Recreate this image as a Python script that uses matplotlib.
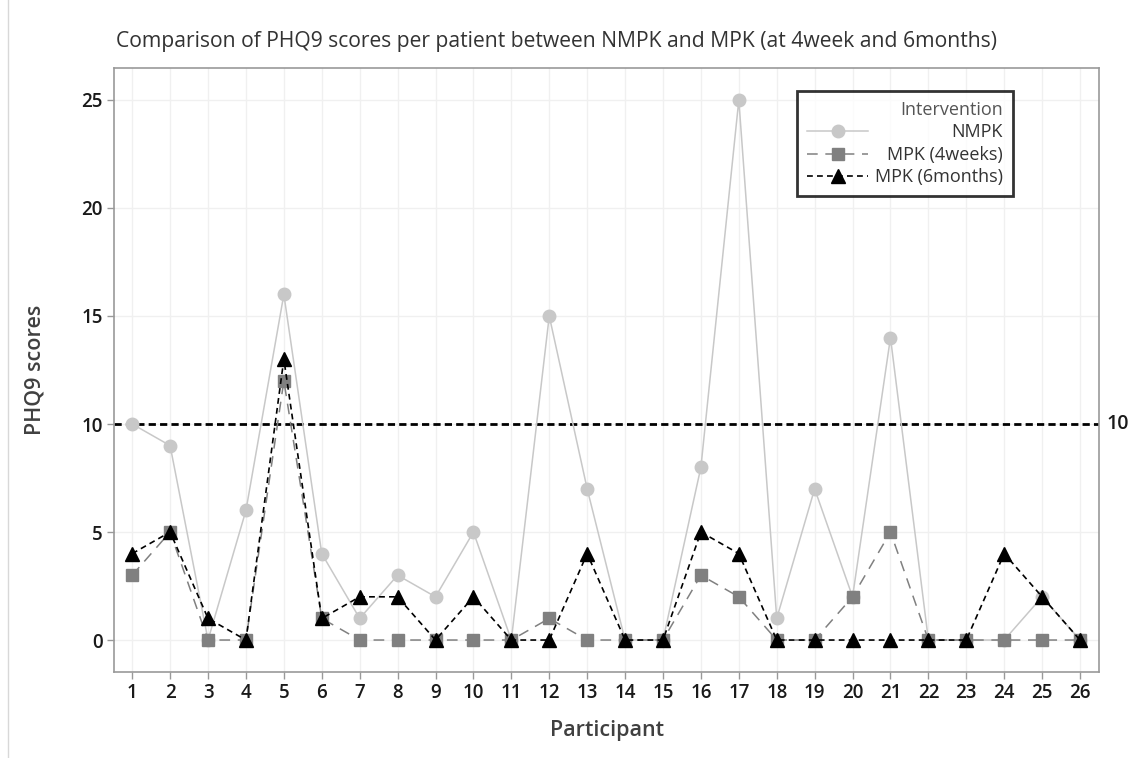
import matplotlib
matplotlib.use("Agg")
import matplotlib.pyplot as plt
from matplotlib.lines import Line2D

participants = list(range(1, 27))
nmpk = [10, 9, 0, 6, 16, 4, 1, 3, 2, 5, 0, 15, 7, 0, 0, 8, 25, 1, 7, 2, 14, 0, 0, 0, 2, 0]
mpk_4weeks = [3, 5, 0, 0, 12, 1, 0, 0, 0, 0, 0, 1, 0, 0, 0, 3, 2, 0, 0, 2, 5, 0, 0, 0, 0, 0]
mpk_6months = [4, 5, 1, 0, 13, 1, 2, 2, 0, 2, 0, 0, 4, 0, 0, 5, 4, 0, 0, 0, 0, 0, 0, 4, 2, 0]
cutoff = 10

plt.rcParams['font.family'] = ['Open Sans', 'DejaVu Sans']

fig = plt.figure(figsize=(11.33, 7.58), dpi=100)
ax = fig.add_axes([114/1133, 1 - 672/758, (1099-114)/1133, (672-68)/758])

ax.plot(participants, nmpk, color='#c8c8c8', lw=1.1, marker='o', ms=9,
        mfc='#c8c8c8', mec='#c8c8c8', label='NMPK', zorder=3)
ax.plot(participants, mpk_4weeks, color='#808080', lw=1.1, ls=(0, (7, 5)), marker='s', ms=8.5,
        mfc='#808080', mec='#808080', label='MPK (4weeks)', zorder=4)
ax.plot(participants, mpk_6months, color='black', lw=1.2, ls=(0, (3.5, 2.5)), marker='^', ms=10,
        mfc='black', mec='black', label='MPK (6months)', zorder=5)

ax.axhline(cutoff, color='black', lw=2, ls=(0, (2.6, 1.5)), zorder=2)
ax.text(1.008, cutoff, str(cutoff), transform=ax.get_yaxis_transform(), va='center', ha='left',
        fontsize=14, fontweight='semibold', color='#1a1a1a')

ax.set_xlim(0.52, 26.5)
ax.set_ylim(-1.48, 26.48)
ax.set_xticks(participants)
ax.set_yticks([0, 5, 10, 15, 20, 25])
ax.grid(True, color='#f0f0f0', lw=1, zorder=0)
ax.set_axisbelow(True)
for s in ax.spines.values():
    s.set_color('#999999')
    s.set_linewidth(1.2)
ax.tick_params(axis='both', colors='#999999', labelcolor='#1a1a1a', labelsize=13.5, length=5, width=1, pad=3)
for lab in ax.get_xticklabels() + ax.get_yticklabels():
    lab.set_fontweight('semibold')

ax.set_xlabel('Participant', fontsize=15.5, fontweight='semibold', color='#404040', labelpad=12)
ax.set_ylabel('PHQ9 scores', fontsize=15.5, fontweight='semibold', color='#404040', labelpad=26)
fig.text(116/1133, 1 - 42/758, 'Comparison of PHQ9 scores per patient between NMPK and MPK (at 4week and 6months)',
         fontsize=15.2, color='#333333', ha='left', va='center')

leg = ax.legend(loc='upper right', bbox_to_anchor=((1013-114)/985, (672-91)/604), borderaxespad=0,
                title='Intervention', alignment='right', fontsize=13,
                title_fontproperties={'size': 13, 'weight': 'medium'},
                frameon=True, fancybox=False, handlelength=3.4, borderpad=0.55, labelspacing=0.25)
leg.get_frame().set_edgecolor('black')
leg.get_frame().set_linewidth(2)
leg.get_title().set_color('#555555')
for t in leg.get_texts():
    t.set_color('#333333')
for col in leg._legend_handle_box.get_children():
    for hp in col.get_children():
        hp.mode = 'expand'
        hp.width = 196

fig.add_artist(Line2D([8/1133, 8/1133], [0, 1], transform=fig.transFigure, color='#d8d8d8', lw=1))

fig.savefig('out.png', dpi=100)
